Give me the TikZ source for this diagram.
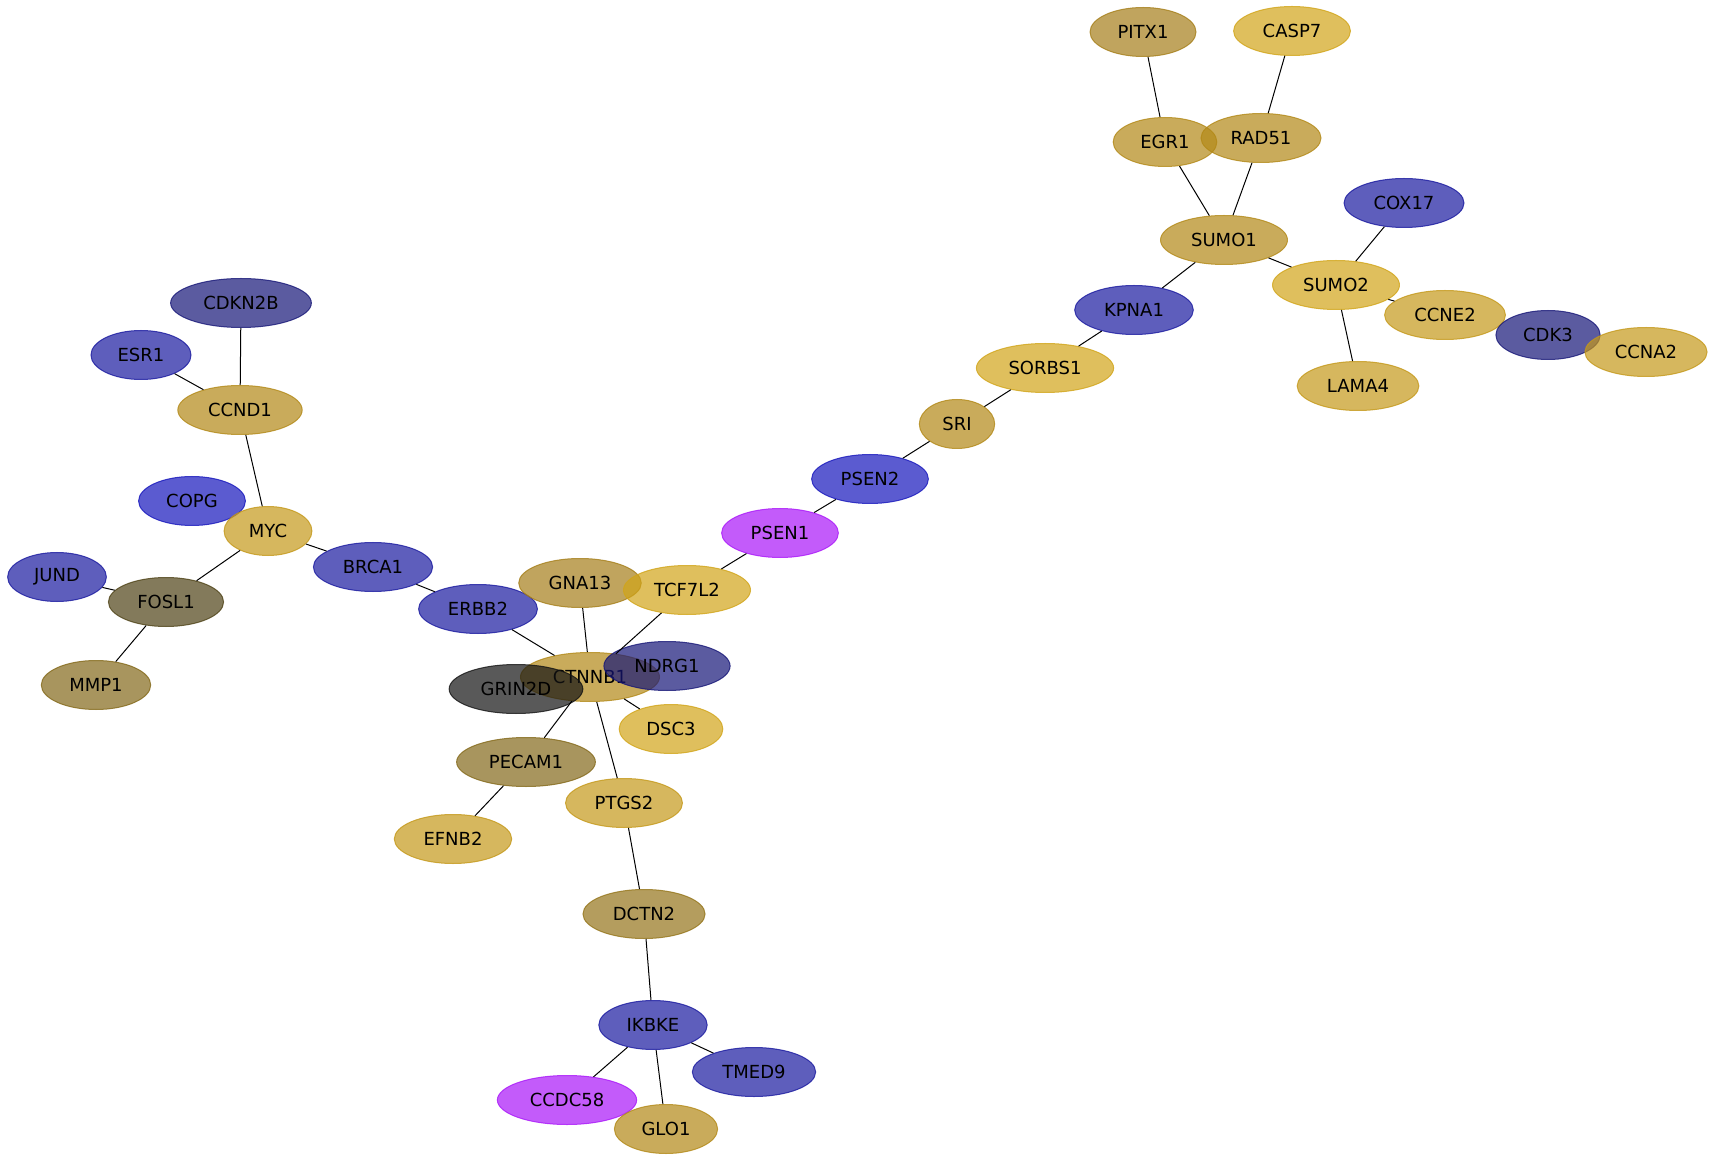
\documentclass[tikz,border=0pt]{standalone}
\usepackage{fontspec}
\setmainfont{DejaVu Sans}
\usetikzlibrary{shapes.geometric}
% base colours, shown at opacity 0.7 on white
\definecolor{goldL}{RGB}{209,164,24}
\definecolor{goldM}{RGB}{196,152,25}
\definecolor{goldD}{RGB}{178,136,22}
\definecolor{goldE}{RGB}{165,126,25}
\definecolor{tan}{RGB}{148,116,25}
\definecolor{olive}{RGB}{131,104,25}
\definecolor{khaki}{RGB}{78,66,22}
\definecolor{graydark}{RGB}{19,19,19}
\definecolor{blueD}{RGB}{22,22,119}
\definecolor{blueM}{RGB}{25,25,159}
\definecolor{blueL}{RGB}{22,22,188}
\definecolor{violet}{RGB}{169,22,248}
\tikzset{
  gene/.style={ellipse, inner xsep=6pt, inner ysep=2pt, minimum height=24.5pt,
    fill=#1, draw=#1, fill opacity=0.7, draw opacity=0.8, text opacity=1,
    line width=0.5pt, font=\fontsize{9}{10}\selectfont},
  link/.style={line width=0.5pt, black}
}
\begin{document}
\begin{tikzpicture}[x=0.5pt,y=-0.5pt]
  \useasboundingbox (0,0) rectangle (1714,1160);
  % nodes
  \node[gene=goldE] (PITX1) at (1143,32) {PITX1};
  \node[gene=goldL] (CASP7) at (1292,31) {CASP7};
  \node[gene=goldD] (EGR1) at (1165,142) {EGR1};
  \node[gene=goldD] (RAD51) at (1261,138) {RAD51};
  \node[gene=goldD] (SUMO1) at (1224,240) {SUMO1};
  \node[gene=blueM] (COX17) at (1404,203) {COX17};
  \node[gene=goldL] (SUMO2) at (1336,285) {SUMO2};
  \node[gene=goldM] (CCNE2) at (1445,315) {CCNE2};
  \node[gene=blueD] (CDK3) at (1548,335) {CDK3};
  \node[gene=goldM] (CCNA2) at (1646,352) {CCNA2};
  \node[gene=goldM] (LAMA4) at (1358,386) {LAMA4};
  \node[gene=blueM] (KPNA1) at (1134,310) {KPNA1};
  \node[gene=goldL] (SORBS1) at (1045,368) {SORBS1};
  \node[gene=goldD] (SRI) at (957,424) {SRI};
  \node[gene=blueL] (PSEN2) at (870,479) {PSEN2};
  \node[gene=violet] (PSEN1) at (780,533) {PSEN1};
  \node[gene=blueD] (CDKN2B) at (241,303) {CDKN2B};
  \node[gene=blueM] (ESR1) at (141,355) {ESR1};
  \node[gene=goldD] (CCND1) at (240,410) {CCND1};
  \node[gene=blueL] (COPG) at (192,501) {COPG};
  \node[gene=goldM] (MYC) at (268,531) {MYC};
  \node[gene=blueM] (BRCA1) at (373,567) {BRCA1};
  \node[gene=blueM] (JUND) at (57,577) {JUND};
  \node[gene=khaki] (FOSL1) at (166,602) {FOSL1};
  \node[gene=olive] (MMP1) at (96,685) {MMP1};
  \node[gene=blueM] (ERBB2) at (478,609) {ERBB2};
  \node[gene=goldE] (GNA13) at (580,583) {GNA13};
  \node[gene=goldL] (TCF7L2) at (687,590) {TCF7L2};
  \node[gene=goldD] (CTNNB1) at (590,677) {CTNNB1};
  \node[gene=graydark] (GRIN2D) at (516,689) {GRIN2D};
  \node[gene=blueD] (NDRG1) at (667,666) {NDRG1};
  \node[gene=goldL] (DSC3) at (671,729) {DSC3};
  \node[gene=olive] (PECAM1) at (526,762) {PECAM1};
  \node[gene=goldM] (PTGS2) at (624,803) {PTGS2};
  \node[gene=goldM] (EFNB2) at (453,839) {EFNB2};
  \node[gene=tan] (DCTN2) at (644,914) {DCTN2};
  \node[gene=blueM] (IKBKE) at (653,1025) {IKBKE};
  \node[gene=blueM] (TMED9) at (754,1072) {TMED9};
  \node[gene=violet] (CCDC58) at (567,1100) {CCDC58};
  \node[gene=goldD] (GLO1) at (666,1129) {GLO1};
  % edges
  \draw[link] (PITX1) -- (EGR1);
  \draw[link] (CASP7) -- (RAD51);
  \draw[link] (EGR1) -- (SUMO1);
  \draw[link] (RAD51) -- (SUMO1);
  \draw[link] (SUMO1) -- (SUMO2);
  \draw[link] (SUMO1) -- (KPNA1);
  \draw[link] (COX17) -- (SUMO2);
  \draw[link] (SUMO2) -- (CCNE2);
  \draw[link] (SUMO2) -- (LAMA4);
  \draw[link] (KPNA1) -- (SORBS1);
  \draw[link] (SORBS1) -- (SRI);
  \draw[link] (SRI) -- (PSEN2);
  \draw[link] (PSEN2) -- (PSEN1);
  \draw[link] (PSEN1) -- (TCF7L2);
  \draw[link] (TCF7L2) -- (CTNNB1);
  \draw[link] (GNA13) -- (CTNNB1);
  \draw[link] (ERBB2) -- (CTNNB1);
  \draw[link] (BRCA1) -- (ERBB2);
  \draw[link] (MYC) -- (BRCA1);
  \draw[link] (CCND1) -- (MYC);
  \draw[link] (CDKN2B) -- (CCND1);
  \draw[link] (ESR1) -- (CCND1);
  \draw[link] (MYC) -- (FOSL1);
  \draw[link] (JUND) -- (FOSL1);
  \draw[link] (FOSL1) -- (MMP1);
  \draw[link] (CTNNB1) -- (DSC3);
  \draw[link] (CTNNB1) -- (PECAM1);
  \draw[link] (CTNNB1) -- (PTGS2);
  \draw[link] (PECAM1) -- (EFNB2);
  \draw[link] (PTGS2) -- (DCTN2);
  \draw[link] (DCTN2) -- (IKBKE);
  \draw[link] (IKBKE) -- (TMED9);
  \draw[link] (IKBKE) -- (CCDC58);
  \draw[link] (IKBKE) -- (GLO1);
\end{tikzpicture}
\end{document}
